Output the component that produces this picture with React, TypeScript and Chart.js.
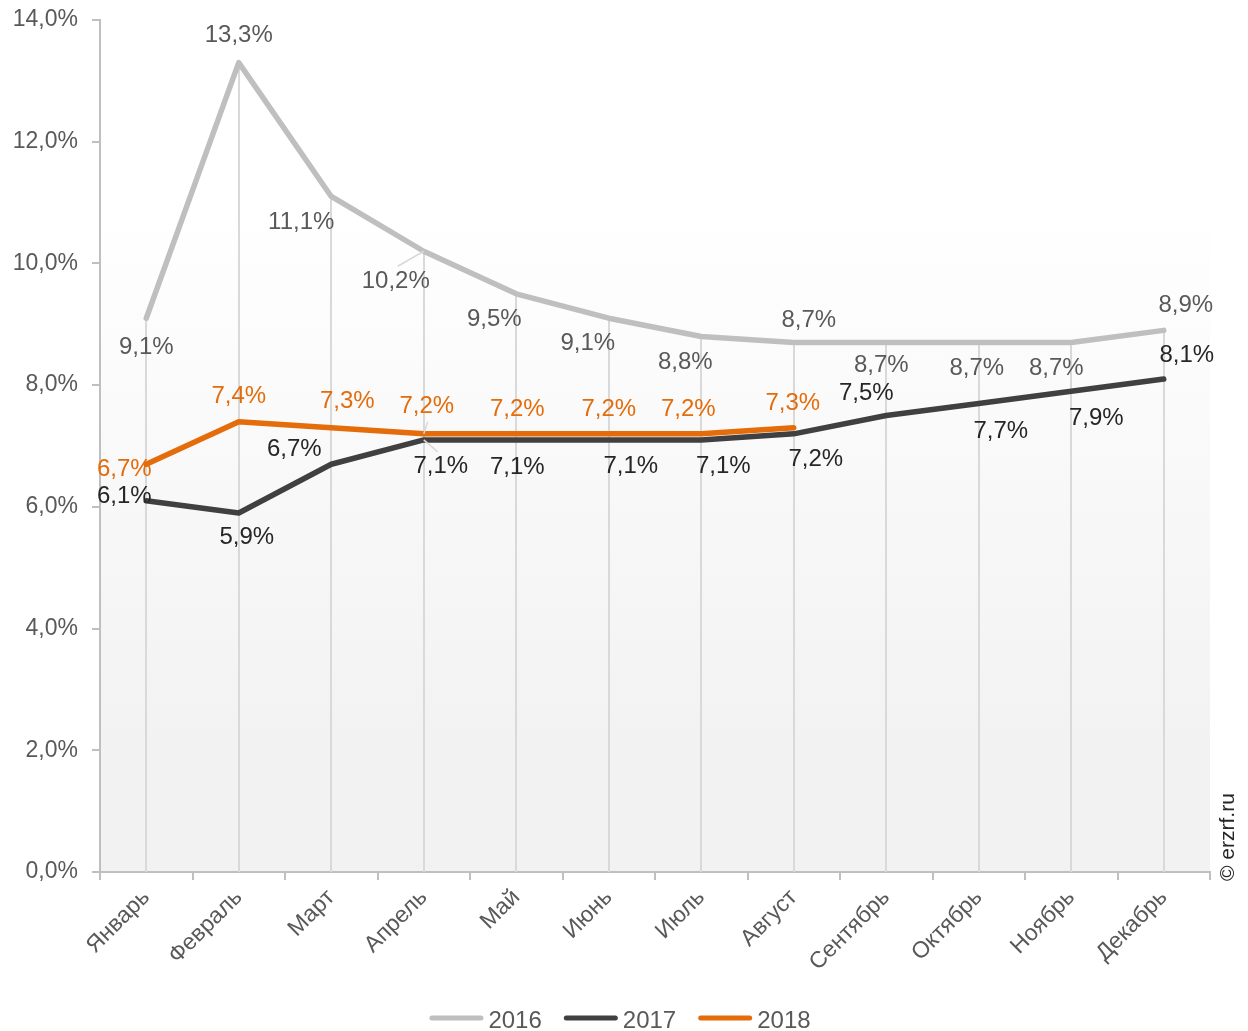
import React, { useEffect, useRef } from "react";
import { Chart, registerables } from "chart.js";

Chart.register(...registerables);

const categories = ["Январь", "Февраль", "Март", "Апрель", "Май", "Июнь", "Июль", "Август", "Сентябрь", "Октябрь", "Ноябрь", "Декабрь"];
const values2016 = [9.1, 13.3, 11.1, 10.2, 9.5, 9.1, 8.8, 8.7, 8.7, 8.7, 8.7, 8.9];
const values2017 = [6.1, 5.9, 6.7, 7.1, 7.1, 7.1, 7.1, 7.2, 7.5, 7.7, 7.9, 8.1];
const values2018 = [6.7, 7.4, 7.3, 7.2, 7.2, 7.2, 7.2, 7.3, null, null, null, null];
const seriesNames = ["2016", "2017", "2018"];
const yMin = 0;
const yMax = 14;
const yStep = 2;

// label placement (offset from point to label centre), styling only
const labelOffsets2016 = [[0, 29], [0, -27], [-30, 26], [-28, 30], [-22, 26], [-21, 25], [-16, 26], [15, -22], [-5, 23], [-2, 26], [-15, 26], [22, -25]];
const labelOffsets2017 = [[-22, -4], [8, 24], [-37, -15], [17, 26], [1, 27], [22, 26], [22, 26], [22, 26], [-20, -22], [22, 28], [25, 27], [23, -24]];
const labelOffsets2018 = [[-22, 5], [0, -25], [16, -26], [3, -27], [1, -24], [0, -24], [-13, -24], [-1, -24]];

const FONT = "'Liberation Sans', Arial, sans-serif";
const fmt = (v: number) => v.toFixed(1).replace(".", ",") + "%";

const bgPlugin = {
  id: "bgGradient",
  beforeDraw(chart: any) {
    const { ctx, chartArea: a } = chart;
    if (!a) return;
    const g = ctx.createLinearGradient(0, a.top, 0, a.bottom);
    g.addColorStop(0, "#ffffff");
    g.addColorStop(0.22, "#ffffff");
    g.addColorStop(0.85, "#f2f2f2");
    g.addColorStop(1, "#f2f2f2");
    ctx.save();
    ctx.fillStyle = g;
    ctx.fillRect(a.left, a.top, a.right - a.left, a.bottom - a.top);
    ctx.restore();
  },
};

const dropLinePlugin = {
  id: "dropLines",
  beforeDatasetsDraw(chart: any) {
    const { ctx, chartArea: a } = chart;
    const xs = chart.scales.x;
    const ys = chart.scales.y;
    ctx.save();
    ctx.strokeStyle = "#d9d9d9";
    ctx.lineWidth = 2;
    chart.data.labels.forEach((_: any, i: number) => {
      let mx = -Infinity;
      chart.data.datasets.forEach((ds: any) => {
        const v = ds.data[i];
        if (v != null && v > mx) mx = v;
      });
      if (!isFinite(mx)) return;
      const x = Math.round(xs.getPixelForValue(i));
      ctx.beginPath();
      ctx.moveTo(x, ys.getPixelForValue(mx));
      ctx.lineTo(x, a.bottom);
      ctx.stroke();
    });
    ctx.restore();
  },
};

const labelPlugin = {
  id: "pointLabels",
  afterDatasetsDraw(chart: any) {
    const { ctx } = chart;
    ctx.save();
    ctx.font = `24px ${FONT}`;
    ctx.textAlign = "center";
    ctx.textBaseline = "middle";
    chart.data.datasets.forEach((ds: any, di: number) => {
      const meta = chart.getDatasetMeta(di);
      const offs = ds.labelOffsets || [];
      meta.data.forEach((pt: any, i: number) => {
        const v = ds.data[i];
        if (v == null) return;
        const o = offs[i] || [0, -24];
        const lx = pt.x + o[0];
        const ly = pt.y + o[1];
        const leader = ds.leaders && ds.leaders[i];
        if (leader) {
          ctx.strokeStyle = "#d9d9d9";
          ctx.lineWidth = 1.5;
          ctx.beginPath();
          ctx.moveTo(pt.x, pt.y);
          ctx.lineTo(pt.x + leader[0], pt.y + leader[1]);
          ctx.stroke();
        }
        ctx.fillStyle = ds.labelColor;
        ctx.fillText(fmt(v), lx, ly);
      });
    });
    ctx.restore();
  },
};

const legendPlugin = {
  id: "customLegend",
  afterDraw(chart: any) {
    const { ctx, width } = chart;
    ctx.save();
    ctx.font = `24px ${FONT}`;
    ctx.textBaseline = "middle";
    ctx.textAlign = "left";
    const lineLen = 54;
    const gapText = 5;
    const gapItem = 22;
    const items = chart.data.datasets.map((ds: any) => ({
      label: ds.label,
      color: ds.borderColor,
      w: lineLen + gapText + ctx.measureText(ds.label).width,
    }));
    const total = items.reduce((s: number, it: any) => s + it.w, 0) + gapItem * (items.length - 1);
    let x = width / 2 - total / 2 - 4;
    const y = 1021;
    items.forEach((it: any) => {
      ctx.strokeStyle = it.color;
      ctx.lineWidth = 5;
      ctx.lineCap = "round";
      ctx.beginPath();
      ctx.moveTo(x + 2.5, y - 3);
      ctx.lineTo(x + lineLen - 2.5, y - 3);
      ctx.stroke();
      ctx.fillStyle = "#595959";
      ctx.fillText(it.label, x + lineLen + gapText, y);
      x += it.w + gapItem;
    });
    ctx.restore();
  },
};

const watermarkPlugin = {
  id: "watermark",
  afterDraw(chart: any) {
    const { ctx } = chart;
    ctx.save();
    ctx.translate(1228, 881);
    ctx.rotate(-Math.PI / 2);
    ctx.font = `21px ${FONT}`;
    ctx.fillStyle = "#262626";
    ctx.textAlign = "left";
    ctx.textBaseline = "middle";
    ctx.fillText("© erzrf.ru", 0, 0);
    ctx.restore();
  },
};

export default function App() {
  const ref = useRef<HTMLCanvasElement | null>(null);
  useEffect(() => {
    document.body.style.margin = "0";
    if (!ref.current) return;
    const chart = new Chart(ref.current, {
      type: "line",
      data: {
        labels: categories,
        datasets: [
          {
            label: seriesNames[0],
            data: values2016,
            borderColor: "#bfbfbf",
            labelColor: "#595959",
            labelOffsets: labelOffsets2016,
            leaders: { 3: [-26, 15] },
            order: 3,
          } as any,
          {
            label: seriesNames[1],
            data: values2017,
            borderColor: "#404040",
            labelColor: "#262626",
            labelOffsets: labelOffsets2017,
            leaders: { 3: [14, 12] },
            order: 2,
          } as any,
          {
            label: seriesNames[2],
            data: values2018,
            borderColor: "#e46c0a",
            labelColor: "#e46c0a",
            labelOffsets: labelOffsets2018,
            leaders: { 3: [4, -12] },
            order: 1,
          } as any,
        ].map((d) => ({
          ...d,
          borderWidth: 5.5,
          pointRadius: 0,
          pointHoverRadius: 0,
          tension: 0,
          fill: false,
          borderCapStyle: "round",
          borderJoinStyle: "round",
          spanGaps: false,
        })),
      },
      options: {
        animation: false,
        responsive: false,
        maintainAspectRatio: false,
        events: [],
        layout: { padding: { left: 0, right: 38, top: 20, bottom: 0 } },
        plugins: {
          legend: { display: false },
          tooltip: { enabled: false },
        },
        scales: {
          x: {
            type: "category",
            offset: true,
            grid: {
              offset: true,
              drawOnChartArea: false,
              drawTicks: true,
              tickLength: 8,
              color: "#bfbfbf",
              lineWidth: 2,
            },
            border: { display: true, color: "#bfbfbf", width: 2 },
            ticks: {
              color: "#595959",
              font: { family: FONT, size: 23 },
              maxRotation: 45,
              minRotation: 45,
              padding: 4,
              autoSkip: false,
            },
            afterFit(scale: any) {
              scale.height = 159;
              scale.paddingLeft = 0;
              scale.paddingRight = 0;
            },
          },
          y: {
            min: yMin,
            max: yMax,
            grid: {
              drawOnChartArea: false,
              drawTicks: true,
              tickLength: 8,
              color: "#bfbfbf",
              lineWidth: 2,
            },
            border: { display: true, color: "#bfbfbf", width: 2 },
            ticks: {
              stepSize: yStep,
              color: "#595959",
              font: { family: FONT, size: 23 },
              padding: 14,
              callback: (v: any) => fmt(Number(v)),
            },
            afterFit(scale: any) {
              scale.width = 100;
              scale.paddingTop = 0;
              scale.paddingBottom = 0;
            },
          },
        },
      },
      plugins: [bgPlugin, dropLinePlugin, labelPlugin, legendPlugin, watermarkPlugin],
    } as any);
    return () => chart.destroy();
  }, []);
  return (
    <div style={{ width: 1248, height: 1031 }}>
      <canvas ref={ref} width={1248} height={1031} style={{ display: "block", width: 1248, height: 1031 }} />
    </div>
  );
}
